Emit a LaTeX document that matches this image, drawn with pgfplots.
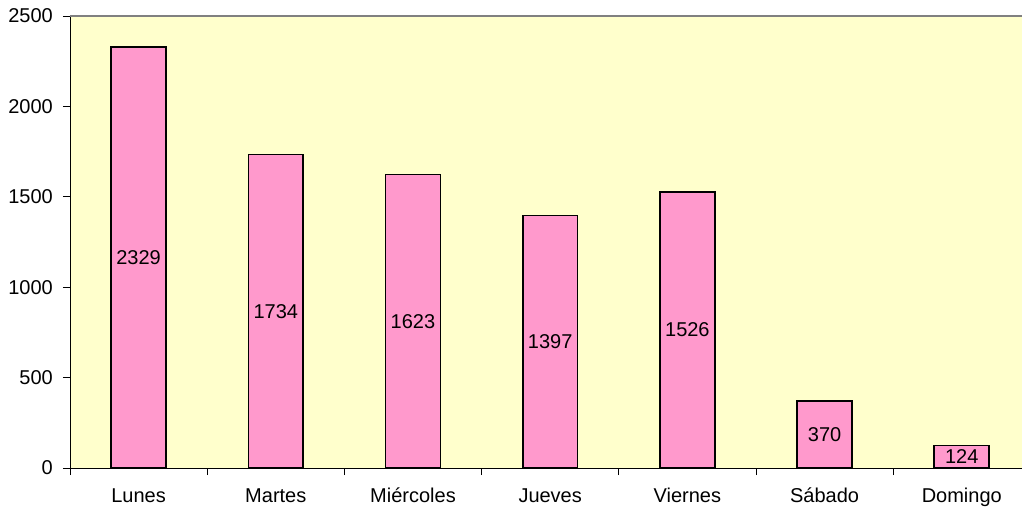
\documentclass[border=0pt]{standalone}
\usepackage{fontspec}
\setmainfont{Liberation Sans}
\usepackage{pgfplots}
\pgfplotsset{compat=1.18}
\definecolor{plotbg}{HTML}{FFFFCC}
\definecolor{barpink}{HTML}{FF99CC}
\begin{document}
\begin{tikzpicture}
\begin{axis}[
  scale only axis,
  width=952pt, height=452pt,
  xmin=-0.5, xmax=6.439,
  ymin=0, ymax=2500,
  ytick={0,500,...,2500},
  xtick={-0.5,0.5,1.5,2.5,3.5,4.5,5.5},
  xticklabels={},
  extra x ticks={0,...,6},
  extra x tick labels={Lunes,Martes,Miércoles,Jueves,Viernes,Sábado,Domingo},
  extra x tick style={major tick length=0pt},
  tick align=outside,
  major tick length=7pt,
  tick style={black, line width=0.8pt},
  axis x line*=bottom,
  axis y line*=left,
  axis line style={black, line width=0.9pt, -},
  axis background/.style={fill=plotbg},
  font=\fontsize{20}{24}\selectfont,
  /pgf/number format/assume math mode=true,
  /pgf/number format/1000 sep={},
  yticklabel style={inner sep=0pt, xshift=-10pt},
  xticklabel style={anchor=north, inner sep=0pt, text height=14pt, text depth=4pt, yshift=-20pt},
  clip=false,
]
\addplot[ybar, bar width=0.4, fill=barpink, draw=black, line width=1.7pt]
  coordinates {(0,2329) (1,1734) (2,1623) (3,1397) (4,1526) (5,370) (6,124)};
\addplot[draw=none, mark=none, nodes near coords, point meta=explicit symbolic,
  every node near coord/.append style={anchor=center, inner sep=0pt, font=\fontsize{20}{24}\selectfont}]
  coordinates {(0,1164.5)[2329] (1,867)[1734] (2,811.5)[1623] (3,698.5)[1397]
               (4,763)[1526] (5,185)[370] (6,62)[124]};
\end{axis}
\draw[gray, line width=1.6pt] (current axis.north west) -- (current axis.north east);
\pgfresetboundingbox
\path ([shift={(-70pt,-47pt)}]current axis.south west) rectangle ([shift={(0pt,16pt)}]current axis.north east);
\end{tikzpicture}
\end{document}
